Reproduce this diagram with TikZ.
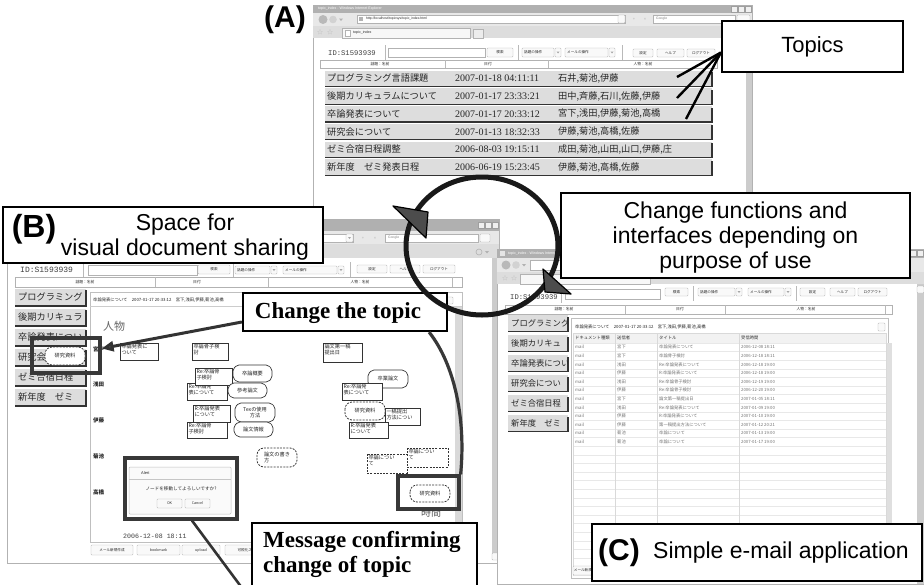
\documentclass[tikz,border=0pt]{standalone}
\usepackage{fontspec}
\setmainfont{Liberation Sans}
\newfontfamily\jp{Noto Sans CJK JP}
\newfontfamily\tnr{Liberation Serif}
\newfontfamily\mono{Liberation Mono}
\usetikzlibrary{arrows.meta}

\newcommand\fs[1]{\fontsize{#1}{#1}\selectfont}
\newcommand\fsl[2]{\fontsize{#1}{#2}\selectfont}
\newcounter{lbl}
% a text label that gets a running name
\newcommand\lbl[3]{\stepcounter{lbl}\node[#1] (t\arabic{lbl}) at (#2) {#3};}

\tikzset{
  jp/.style={font=\jp\fs{#1}, inner sep=0pt, text=black!85},
  lt/.style={font=\fs{#1}, inner sep=0pt, text=black!85},
  btn/.style={draw=gray!60, fill=gray!5, line width=0.4pt, rounded corners=0.8pt},
  field/.style={draw=gray!60, fill=white, line width=0.4pt},
  sep/.style={draw=gray!55, line width=0.5pt},
  rowbg/.style={fill=gray!27},
  rowedge/.style={draw=black!80, line width=1.4pt},
  bar/.style={fill=gray!62},
  chrome/.style={fill=gray!18},
  tabrow/.style={fill=gray!27},
  frame/.style={draw=gray!60, fill=white, line width=0.6pt},
  callout/.style={draw=black, fill=white, line width=2.2pt, inner sep=0pt},
  hilite/.style={draw=black!78, line width=3.2pt, inner sep=0pt},
  pointer/.style={draw=black, line width=2.4pt},
  gnode/.style={draw=black!80, fill=white, line width=0.7pt},
  dnode/.style={draw=black!80, fill=white, line width=0.8pt, dash pattern=on 2pt off 1.2pt},
  ntext/.style={font=\jp\fs{5.2}, align=left, inner sep=0pt, anchor=north west, text=black!85},
  cell/.style={font=\jp\fs{4.3}, inner sep=0pt, anchor=west, text=black!55},
}

% push button
\newcommand\pbtn[5]{\draw[btn] (#1,#2) rectangle (#3,#4);
  \lbl{jp=3.6}{{(#1+#3)/2},{(#2+#4)/2}}{#5}}
% drop-down list
\newcommand\dbox[5]{\draw[btn] (#1,#2) rectangle (#3,#4);
  \draw[btn] (#3+1,#2) rectangle (#3+7,#4);
  \fill[gray!70] (#3+2.5,{(#2+#4)/2-1}) -- (#3+5.5,{(#2+#4)/2-1}) -- (#3+4,{(#2+#4)/2+1}) -- cycle;
  \lbl{jp=3.6,anchor=west}{#1+2,{(#2+#4)/2}}{#5}}
% caption buttons of a window: right end, top
\newcommand\caps[2]{\foreach \k in {0,1,2}{\draw[draw=gray!75, fill=gray!12, line width=0.4pt] (#1-20+7*\k,#2) rectangle ++(6,6);}}
% shaded row of a topic list
\newcommand\trow[4]{\fill[rowbg] (#1,#2) rectangle (#3,#4);
  \draw[rowedge] (#1,#4) -- (#3,#4) -- (#3,#2+1.5);}
% narrow list row, its title cut at the right border
\newcommand\lrow[6]{\trow{#1}{#2}{#3}{#4}
  \begin{scope}\clip (#1,#2) rectangle (#3-1,#4);
  \lbl{jp=#6,anchor=west}{#1+3,{(#2+#4)/2}}{#5}\end{scope}}
% item shapes of the sharing space
\newcommand\gbox[5]{\draw[gnode] (#1,#2) rectangle (#3,#4); \lbl{ntext}{#1+1.3,#2+1.3}{#5}}
\newcommand\obox[5]{\draw[gnode, rounded corners=2pt] (#1+4,#2) -- (#3-4,#2) -- (#3,#2+4) -- (#3,#4-4) -- (#3-4,#4) -- (#1+4,#4) -- (#1,#4-4) -- (#1,#2+4) -- cycle;
  \lbl{ntext,anchor=center,align=center}{{(#1+#3)/2},{(#2+#4)/2}}{#5}}
\newcommand\dpill[5]{\draw[dnode, rounded corners=7pt] (#1,#2) rectangle (#3,#4);
  \lbl{ntext,anchor=center}{{(#1+#3)/2},{(#2+#4)/2}}{#5}}
\newcommand\drect[5]{\draw[dnode] (#1,#2) rectangle (#3,#4); \lbl{ntext}{#1+1.3,#2+1.3}{#5}}
% one topic of the index page
\newcommand\toprow[4]{\pgfmathsetmacro\ty{70.5+17.75*#1}
  \trow{325}{\ty}{712}{\ty+16}
  \lbl{jp=9.2,anchor=west}{327,\ty+8}{#2}
  \lbl{font=\tnr\fs{10},anchor=west,inner sep=0pt,text=black!85}{455,\ty+8}{#3}
  \lbl{jp=9.2,anchor=west}{558,\ty+8}{#4}}

\begin{document}
\begin{tikzpicture}[x=1pt,y=-1pt]
\useasboundingbox (0,0) rectangle (924,584);
\fill[white] (0,0) rectangle (924,584);

%% ================= window A : topic index
\draw[frame] (313,5) rectangle (752,272);
\fill[bar] (313,5) rectangle (752,13);
\lbl{lt=3.6,text=white,anchor=west}{318,9}{topic\_index - Windows Internet Explorer}
\caps{751}{6}
\fill[chrome] (313,13) rectangle (752,26);
\fill[gray!55] (323,19.5) circle[radius=4.5pt];
\fill[gray!35] (333,19.5) circle[radius=3.8pt];
\fill[gray!60] (339,18.5) -- (343,18.5) -- (341,21) -- cycle;
\draw[field] (357,15) rectangle (625,23);
\draw[btn] (618,15) rectangle (625,23);
\fill[gray!60] (359,17) rectangle (363,21);
\lbl{lt=3.4,anchor=west}{366,19}{http://localhost/topicsys/topic\_index.html}
\lbl{lt=4,text=gray!60}{634,19}{+}
\lbl{lt=4,text=gray!60}{645,19}{×}
\draw[field] (653,15) rectangle (735,23);
\lbl{lt=3.4,anchor=west,text=gray}{656,19}{Google}
\draw[btn] (737,15) rectangle (750,23);
\fill[tabrow] (313,26) rectangle (752,38);
\lbl{jp=6,text=gray!55}{320,32}{☆}
\lbl{jp=6,text=gray!55}{330,32}{☆}
\draw[draw=gray!60, fill=gray!6, line width=0.4pt] (342,28) rectangle (470,38);
\draw[draw=gray!60, fill=white, line width=0.4pt] (345,30) rectangle (350,36);
\lbl{lt=3.6,anchor=west}{353,33}{topic\_index}
\draw[draw=gray!60, fill=gray!15, line width=0.4pt] (473,29) rectangle (483,38);
\fill[gray!40] (746,38) rectangle (752,272);
% toolbar of the page
\lbl{font=\mono\fs{7.2},anchor=west,inner sep=0pt,text=black!75}{328,53}{ID:S1593939}
\draw[sep] (385,45) -- (385,60);
\draw[field] (388,48) rectangle (485,57);
\pbtn{487}{48}{513}{57}{検索}
\draw[sep] (518,45) -- (518,60);
\dbox{522}{48}{554}{57}{話題の操作}
\dbox{565}{48}{608}{57}{メールの操作}
\draw[sep] (622,45) -- (622,60);
\pbtn{633}{49}{653}{57}{設定}
\pbtn{657}{49}{684}{57}{ヘルプ}
\pbtn{687}{49}{715}{57}{ログアウト}
\draw[field] (320,60) rectangle (717,68);
\draw[sep] (445,60) -- (445,68);
\draw[sep] (548,60) -- (548,68);
\lbl{jp=3.8}{380,64}{話題：名前}
\lbl{jp=3.8}{488,64}{日付}
\lbl{jp=3.8}{643,64}{人物：名前}
% topics
\toprow{0}{プログラミング言語課題}{2007-01-18 04:11:11}{石井,菊池,伊藤}
\toprow{1}{後期カリキュラムについて}{2007-01-17 23:33:21}{田中,斉藤,石川,佐藤,伊藤}
\toprow{2}{卒論発表について}{2007-01-17 20:33:12}{宮下,浅田,伊藤,菊池,高橋}
\toprow{3}{研究会について}{2007-01-13 18:32:33}{伊藤,菊池,高橋,佐藤}
\toprow{4}{ゼミ合宿日程調整}{2006-08-03 19:15:11}{成田,菊池,山田,山口,伊藤,庄}
\toprow{5}{新年度　ゼミ発表日程}{2006-06-19 15:23:45}{伊藤,菊池,高橋,佐藤}

%% ================= window B : sharing space
\draw[frame] (7,219) rectangle (499,563);
\fill[bar] (7,219) rectangle (499,231);
\caps{498}{222}
\fill[chrome] (7,231) rectangle (499,244);
\draw[field] (30,234) rectangle (353,242);
\draw[btn] (346,234) rectangle (353,242);
\fill[gray!70] (348,237) -- (351,237) -- (349.5,239) -- cycle;
\lbl{lt=4,text=gray!60}{363,238}{+}
\lbl{lt=4,text=gray!60}{375,238}{×}
\draw[field] (385,234) rectangle (478,242);
\lbl{lt=3.4,anchor=west,text=gray}{388,238}{Google}
\draw[btn] (480,234) rectangle (490,242);
\fill[tabrow] (7,244) rectangle (499,258);
\draw[gray!60, line width=0.6pt] (479,252) circle[radius=3pt];
\fill[gray!60] (485,251) -- (489,251) -- (487,253.5) -- cycle;
\fill[gray!40] (492,258) rectangle (499,560);
\draw[btn] (492,553) rectangle (499,560);
% toolbar of the page
\lbl{font=\mono\fs{8},anchor=west,inner sep=0pt,text=black!75}{20,270}{ID:S1593939}
\draw[sep] (83,262) -- (83,278);
\draw[field] (88,265) rectangle (197,275);
\pbtn{198}{265}{230}{274}{検索}
\draw[sep] (233,262) -- (233,278);
\dbox{235}{266}{270}{274}{話題の操作}
\dbox{283}{266}{337}{274}{メールの操作}
\draw[sep] (350,262) -- (350,278);
\pbtn{357}{265}{387}{273}{設定}
\pbtn{390}{265}{420}{273}{ヘルプ}
\pbtn{423}{265}{455}{273}{ログアウト}
\draw[field] (15,277) rectangle (462,287);
\draw[sep] (155,277) -- (155,287);
\draw[sep] (268,277) -- (268,287);
\draw[sep] (452,277) -- (452,287);
\lbl{jp=3.8}{85,282}{話題：名前}
\lbl{jp=3.8}{197,282}{日付}
\lbl{jp=3.8}{360,282}{人物：名前}
% topic list at the side
\lrow{15}{288.5}{86}{306}{プログラミング}{9.2}
\lrow{15}{308.5}{86}{326}{後期カリキュラ}{9.2}
\lrow{15}{328.5}{86}{346}{卒論発表につい}{9.2}
\lrow{15}{348.5}{86}{366}{研究会}{9.2}
\lrow{15}{368.5}{86}{386}{ゼミ合宿日程}{9.2}
\lrow{15}{388.5}{86}{406}{新年度　ゼミ}{9.2}
% sharing space panel
\draw[draw=gray!50, fill=white, line width=0.5pt] (90,292) rectangle (462,542);
\fill[gray!30] (455,306) rectangle (462,542);
\draw[gray!40, line width=0.4pt] (90,306) -- (462,306);
\lbl{jp=4.3,anchor=west}{93,300}{卒論発表について　2007-01-17 20:33:12　宮下,浅田,伊藤,菊池,高橋}
\draw[btn] (446,297) rectangle (453,304);
\lbl{jp=11,text=black!60}{114,326}{人物}
\lbl{jp=5.5,anchor=west,font=\jp\bfseries\fs{5.5}}{93,349}{宮下}
\lbl{jp=5.5,anchor=west,font=\jp\bfseries\fs{5.5}}{93,384}{浅田}
\lbl{jp=5.5,anchor=west,font=\jp\bfseries\fs{5.5}}{93,420}{伊藤}
\lbl{jp=5.5,anchor=west,font=\jp\bfseries\fs{5.5}}{93,456}{菊池}
\lbl{jp=5.5,anchor=west,font=\jp\bfseries\fs{5.5}}{93,492}{高橋}
\lbl{jp=10,text=black!65}{431,513}{時間}
\lbl{font=\mono\fs{6.6},inner sep=0pt,anchor=west,text=black!75}{123,536}{2006-12-08 18:11}
\pbtn{91}{545}{133}{555}{メール新規作成}
\pbtn{137}{545}{180}{555}{bookmark}
\pbtn{182}{545}{220}{555}{upload}
\pbtn{225}{545}{275}{555}{可視化スペース}
% items of the topic
\gbox{120}{343}{158}{360}{卒論発表に\\ついて}
\gbox{192}{343}{228}{360}{卒論骨子検\\討}
\gbox{323}{343}{362}{362}{論文第一稿\\提出日}
\gbox{187}{383}{227}{400}{Re:卒論発\\表について}
\gbox{195}{368}{232}{385}{Re:卒論骨\\子検討}
\obox{233}{365}{272}{382}{卒論概要}
\obox{228}{383}{267}{398}{参考論文}
\gbox{193}{405}{230}{422}{R:卒論発表\\について}
\obox{235}{403}{275}{422}{Texの使用\\方法}
\gbox{187}{422}{227}{438}{Re:卒論骨\\子検討}
\obox{234}{422}{273}{437}{論文情報}
\dpill{257}{448}{297}{467}{論文の書き\\方}
\obox{368}{370}{408}{388}{卒業論文}
\gbox{342}{383}{382}{400}{Re:卒論発\\表について}
\gbox{385}{408}{420}{425}{一稿提出\\方法につい}
\dpill{345}{402}{385}{420}{研究資料}
\gbox{349}{422}{388}{438}{R:卒論発表\\について}
\drect{367}{454}{407}{473}{卒論につい\\て}
\drect{407}{448}{448}{467}{卒論につい\\て}
\dpill{410}{485}{450}{502}{研究資料}
\dpill{45}{347}{85}{365}{研究資料}
% confirmation dialog
\draw[draw=gray!50, fill=gray!4, line width=0.5pt, rounded corners=1pt] (129,467) rectangle (231,514);
\draw[gray!45, line width=0.4pt] (129,479) -- (231,479);
\lbl{lt=4,anchor=west}{141,473}{Alert}
\lbl{jp=4.6}{181,489}{ノードを移動してよろしいですか?}
\pbtn{157}{499}{182}{508}{OK}
\pbtn{185}{499}{210}{508}{Cancel}

%% ================= window C : e-mail
\draw[frame] (497,249) rectangle (924,584);
\fill[bar] (497,249) rectangle (924,258);
\fill[gray!20] (500,251) rectangle (505,256);
\lbl{lt=3.6,text=white,anchor=west}{508,253.5}{topic\_index - Windows Internet Explorer}
\caps{923}{250}
\fill[chrome] (497,258) rectangle (924,272);
\fill[gray!55] (506,265) circle[radius=4.5pt];
\fill[gray!35] (516,265) circle[radius=3.8pt];
\fill[gray!60] (522,264) -- (526,264) -- (524,266.5) -- cycle;
\draw[field] (530,260) rectangle (900,270);
\fill[tabrow] (497,272) rectangle (924,284);
\lbl{jp=6,text=gray!55}{505,278}{☆}
\lbl{jp=6,text=gray!55}{514,278}{☆}
\draw[draw=gray!60, fill=gray!6, line width=0.4pt] (520,274) rectangle (650,284);
\fill[gray!40] (917,284) rectangle (924,584);
\draw[btn] (917,286) rectangle (924,293);
% toolbar of the page
\lbl{font=\mono\fs{7.2},anchor=west,inner sep=0pt,text=black!75}{510,297}{ID:S1593939}
\draw[sep] (561,288) -- (561,303);
\draw[field] (565,289) rectangle (660,299);
\pbtn{665}{288}{688}{296}{検索}
\draw[sep] (693,286) -- (693,301);
\dbox{698}{288}{735}{296}{話題の操作}
\dbox{748}{288}{784}{296}{メールの操作}
\draw[sep] (796,286) -- (796,301);
\pbtn{800}{288}{825}{296}{設定}
\pbtn{830}{288}{855}{296}{ヘルプ}
\pbtn{858}{288}{887}{296}{ログアウト}
\draw[field] (505,305) rectangle (892,314);
\draw[sep] (625,305) -- (625,314);
\draw[sep] (725,305) -- (725,314);
\draw[sep] (885,305) -- (885,314);
\lbl{jp=3.8}{564,309.5}{話題：名前}
\lbl{jp=3.8}{680,309.5}{日付}
\lbl{jp=3.8}{806,309.5}{人物：名前}
% topic list at the side
\lrow{508}{315}{568}{331.5}{プログラミング}{8.3}
\lrow{508}{335}{568}{351.5}{後期カリキュ}{8.3}
\lrow{508}{355}{568}{371.5}{卒論発表につい}{8.3}
\lrow{508}{375}{568}{391.5}{研究会につい}{8.3}
\lrow{508}{395}{568}{411.5}{ゼミ合宿日程}{8.3}
\lrow{508}{415}{568}{431.5}{新年度　ゼミ}{8.3}
% mail panel
\draw[draw=gray!50, fill=white, line width=0.5pt] (571,318) rectangle (888,578);
\lbl{jp=4.3,anchor=west}{575,327}{卒論発表について　2007-01-17 20:33:12　宮下,浅田,伊藤,菊池,高橋}
\draw[btn] (878,323) rectangle (885,331);
\fill[gray!25] (886,343) rectangle (892,576);
\fill[gray!10] (573,333) rectangle (886,343);
\foreach \k in {0,...,27}{\draw[gray!18, line width=0.4pt] (573,343+8.6*\k) -- (886,343+8.6*\k);}
\foreach \cx in {573,615,657,739,886}{\draw[gray!30, line width=0.4pt] (\cx,333) -- (\cx,576);}
\draw[gray!30, line width=0.4pt] (573,333) -- (886,333);
\lbl{cell,text=black!80}{575,338}{ドキュメント種類}
\lbl{cell,text=black!80}{617,338}{送信者}
\lbl{cell,text=black!80}{659,338}{タイトル}
\lbl{cell,text=black!80}{741,338}{受信時間}
\foreach \s/\ti/\tm [count=\i from 0] in {
  宮下/卒論発表について/2006-12-08 18:11,
  宮下/卒論骨子検討/2006-12-18 18:11,
  浅田/Re:卒論発表について/2006-12-18 19:00,
  伊藤/R:卒論発表について/2006-12-18 19:00,
  浅田/Re:卒論骨子検討/2006-12-19 19:00,
  伊藤/Re:卒論骨子検討/2006-12-20 19:00,
  宮下/論文第一稿提出日/2007-01-05 18:11,
  浅田/Re:卒論発表について/2007-01-09 19:00,
  伊藤/R:卒論発表について/2007-01-10 19:00,
  伊藤/第一稿提出方法について/2007-01-12 20:21,
  菊池/卒論について/2007-01-13 19:00,
  菊池/卒論について/2007-01-17 19:00}{
  \pgfmathsetmacro\ry{347.3+8.6*\i}
  \lbl{cell}{575,\ry}{mail}
  \lbl{cell}{617,\ry}{\s}
  \lbl{cell}{659,\ry}{\ti}
  \lbl{cell}{741,\ry}{\tm}
}
\pbtn{573}{566}{600}{575}{メール新規作成}

%% ================= highlights and their notes
\node[hilite, minimum width=68pt, minimum height=35pt] (hlB) at (66,355.5) {};
\node[hilite, minimum width=61pt, minimum height=33pt] (hlR) at (428.5,492.5) {};
\node[hilite, minimum width=112pt, minimum height=61pt] (hlA) at (181,488.5) {};

\node[callout, minimum width=204pt, minimum height=38pt] (chtopic) at (345,312) {};
\node[font=\tnr\bfseries\fs{23}, inner sep=0pt] (chtext) at (338,313) {Change the topic};
\draw[draw=black!80, line width=3pt, -{Triangle[length=12pt,width=10pt,fill=black!55]}]
  ([yshift=-10pt]chtopic.west) -- ([yshift=7pt]hlB.east);
\draw[hilite] ([xshift=-19pt]chtopic.south east) .. controls (455,365) and (466,420) .. (hlR.north east);

\coordinate (msgfoot) at (245,592);
\draw[draw=black!80, line width=2.6pt] ([xshift=11pt]hlA.south) -- (msgfoot);
\draw[callout] (252,523) rectangle (477,600);
\node[font=\tnr\bfseries\fsl{23}{25}, align=left, anchor=north west, inner sep=0pt] (msg) at (263,531) {Message confirming\\change of topic};

%% ================= callouts
\node[callout, minimum width=181pt, minimum height=51pt, font=\fs{22}] (topics) at (812.5,46.5) {Topics};
\coordinate (r1) at (677,77);
\coordinate (r2) at (677,98);
\coordinate (r3) at (686,119);
\draw[pointer] ([yshift=-6pt]topics.west) -- (r1);
\draw[pointer] ([yshift=-6pt]topics.west) -- (r2);
\draw[pointer] ([yshift=-6pt]topics.west) -- (r3);

\node[font=\bfseries\fs{30}, inner sep=0pt] (alab) at (285,20) {(A)};

\node[callout, minimum width=320pt, minimum height=56pt] (bcall) at (163,235) {};
\node[font=\bfseries\fs{32}, inner sep=0pt] (blab) at (34,229) {(B)};
\node[font=\fsl{23}{25}, align=center, inner sep=0pt] (btext) at (185,237.5) {Space for\\visual document sharing};

\node[callout, minimum width=349pt, minimum height=85pt] (chg) at (735.5,235.5) {};
\node[font=\fsl{23}{25}, align=center, inner sep=0pt] (chgtext) at (735.5,238) {Change functions and\\interfaces depending on\\purpose of use};

\node[callout, minimum width=330pt, minimum height=57pt] (ccall) at (757,552.5) {};
\node[font=\bfseries\fs{30}, inner sep=0pt] (clab) at (619,553) {(C)};
\node[font=\fs{23}, inner sep=0pt] (ctext) at (781,553) {Simple e-mail application};

%% ================= cycle between the interfaces
\draw[line width=5pt, black!90] (482,246) ellipse [x radius=76pt, y radius=69pt];
\filldraw[fill=black!70, draw=black, line width=1.2pt, line join=round] (393,206) -- (428,212) -- (426,238) -- cycle;
\filldraw[fill=black!70, draw=black, line width=1.2pt, line join=round] (571,294) -- (545,292) -- (543,269) -- cycle;
\end{tikzpicture}
\end{document}
